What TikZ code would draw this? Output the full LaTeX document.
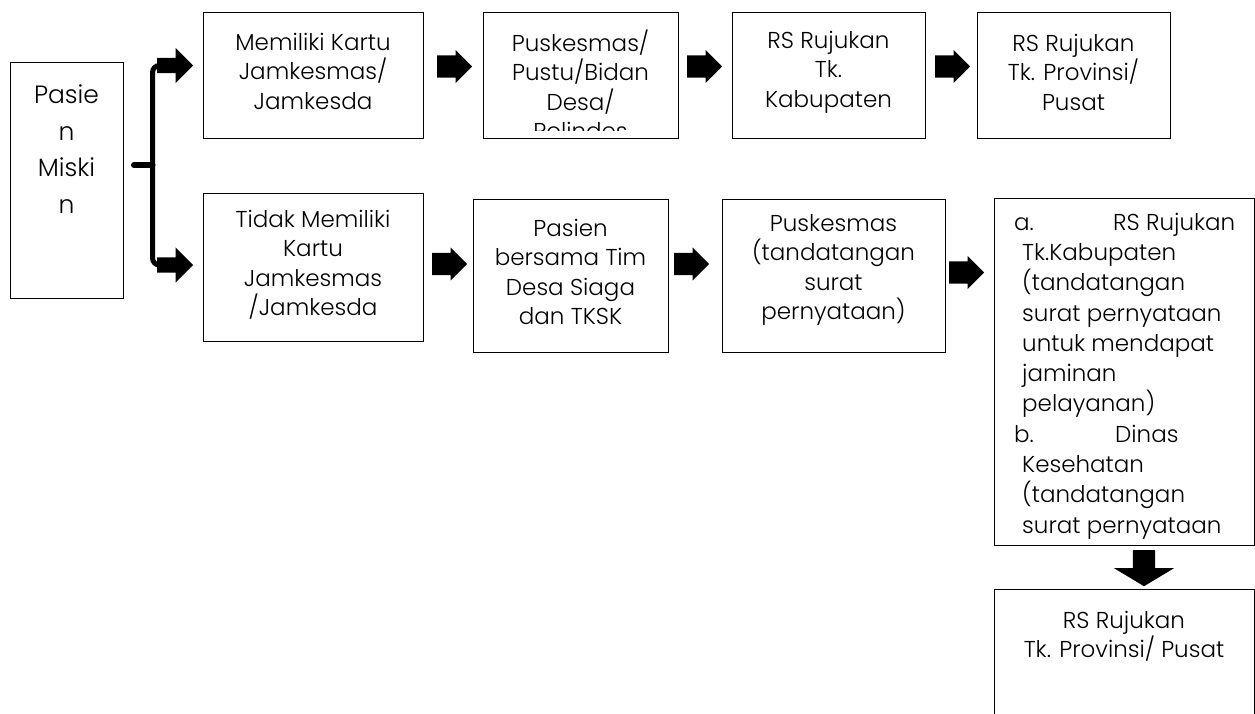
\documentclass[tikz,border=0pt]{standalone}
\usepackage{fontspec}
\setmainfont{Poppins}[UprightFont=* Light]
\usetikzlibrary{shapes.arrows}
\begin{document}
\begin{tikzpicture}[x=1pt,y=-1pt,
  box/.style={draw=black, line width=0.9pt, anchor=north west, inner sep=0pt},
  txt/.style={font=\fontsize{23}{29.5}\selectfont, align=center, inner sep=0pt},
  blk/.style={single arrow, fill=black, draw=none, inner xsep=0pt, inner ysep=11pt,
    minimum height=35pt, minimum width=0pt, anchor=tail,
    single arrow head extend=5.5pt, single arrow head indent=0pt},
  bra/.style={single arrow, fill=black, draw=none, inner xsep=0pt, inner ysep=7.5pt,
    minimum height=36pt, minimum width=0pt, anchor=tail,
    single arrow head extend=10pt, single arrow head indent=0pt},
  brace/.style={line width=5pt, rounded corners=7pt},
]
\clip (0,0) rectangle (1255,713);
\fill[white] (0,0) rectangle (1255,713);

% Pasien box
\node[box, minimum width=113pt, minimum height=236pt] (pasien) at (10,62) {};
\node[txt, font=\fontsize{25}{36.5}\selectfont] (tp) at (66.5,149) {Pasie\\n\\Miski\\n};

% brace with two arrows
\node[bra] (ta) at (157,65.5) {};
\node[bra] (tb) at (157,265) {};
\coordinate (bm) at (134,165);
\coordinate (bx) at (152.5,165);
\draw[brace] ([xshift=1pt]ta.tail) -| (bx) |- ([xshift=1pt]tb.tail);
\draw[line width=6pt, line cap=round] (bm) -- (bx);

% top row
\node[box, minimum width=220pt, minimum height=126pt] (b1) at (203,12) {};
\node[txt] (t1) at (313,71) {Memiliki Kartu\\Jamkesmas/\\Jamkesda};
\node[blk] (a1) at (437,66.5) {};
\node[box, minimum width=195pt, minimum height=126pt] (b2) at (483,12) {};
\begin{scope}
\clip (b2.north west) rectangle ([yshift=8pt]b2.south east);
\node[txt] (t2) at (580.5,85) {Puskesmas/\\Pustu/Bidan\\Desa/\\Polindes};
\end{scope}
\node[blk] (a2) at (687,66.5) {};
\node[box, minimum width=193pt, minimum height=126pt] (b3) at (732,12) {};
\node[txt] (t3) at (828.5,72) {RS Rujukan\\Tk.\\Kabupaten};
\node[blk] (a3) at (935,66.5) {};
\node[box, minimum width=193pt, minimum height=126pt] (b4) at (977,12) {};
\node[txt] (t4) at (1073.5,72) {RS Rujukan\\Tk. Provinsi/\\Pusat};

% bottom row
\node[box, minimum width=220pt, minimum height=148pt] (c1) at (203,193) {};
\node[txt] (u1) at (313,265) {Tidak Memiliki\\Kartu\\Jamkesmas\\/Jamkesda};
\node[blk] (d1) at (432,264) {};
\node[box, minimum width=195pt, minimum height=153pt] (c2) at (473,199) {};
\node[txt] (u2) at (570.5,272) {Pasien\\bersama Tim\\Desa Siaga\\dan TKSK};
\node[blk] (d2) at (674,264) {};
\node[box, minimum width=223pt, minimum height=153pt] (c3) at (722,199) {};
\node[txt] (u3) at (833.5,270) {Puskesmas\\(tandatangan\\surat\\pernyataan)};
\node[blk] (d3) at (949,272.5) {};
\node[box, minimum width=260pt, minimum height=347pt] (c4) at (994,198) {};
\node[txt, font=\fontsize{23}{30.3}\selectfont, align=left, anchor=west] (u4) at (1014,376) {\makebox[99pt][l]{a.}RS Rujukan\\
\hspace*{8pt}Tk.Kabupaten\\
\hspace*{8pt}(tandatangan\\
\hspace*{8pt}surat pernyataan\\
\hspace*{8pt}untuk mendapat\\
\hspace*{8pt}jaminan\\
\hspace*{8pt}pelayanan)\\
\makebox[101pt][l]{b.}Dinas\\
\hspace*{8pt}Kesehatan\\
\hspace*{8pt}(tandatangan\\
\hspace*{8pt}surat pernyataan};

% down arrow and last box
\node[single arrow, fill=black, draw=none, inner xsep=0pt, inner ysep=11pt, rotate=-90,
  minimum height=36pt, minimum width=0pt, single arrow head extend=19pt, anchor=tail,
  single arrow head indent=0pt, single arrow tip angle=118] (dn) at (1144,550) {};
\node[box, minimum width=260pt, minimum height=140pt] (c5) at (994,589) {};
\node[txt] (u5) at (1124,636) {RS Rujukan\\Tk. Provinsi/ Pusat};
\end{tikzpicture}
\end{document}
